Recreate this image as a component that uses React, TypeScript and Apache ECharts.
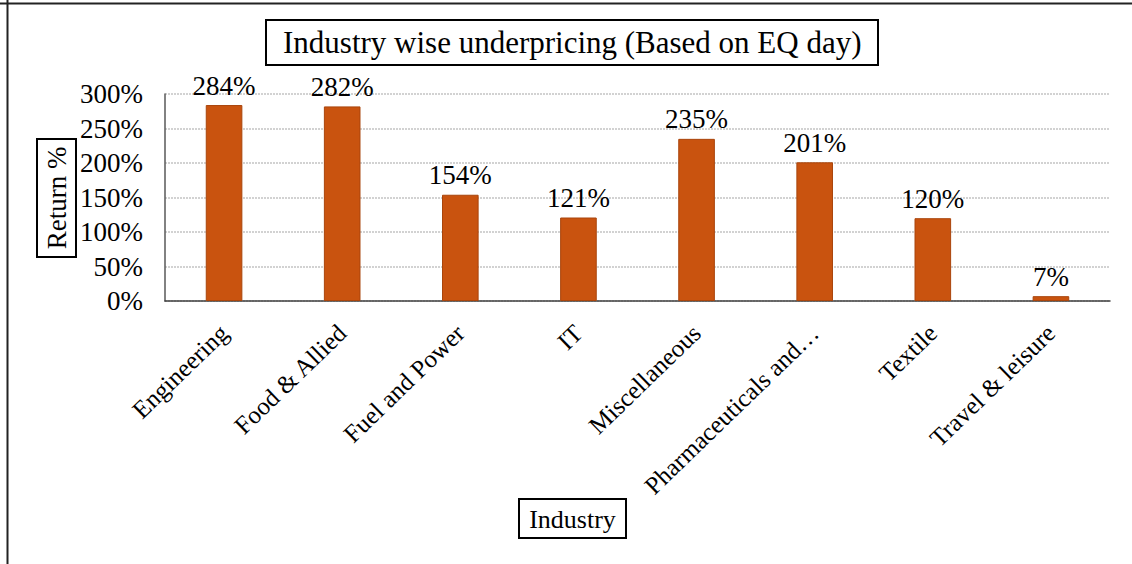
import React, { useEffect, useRef } from "react";
import * as echarts from "echarts";

const categories = [
  "Engineering",
  "Food & Allied",
  "Fuel and Power",
  "IT",
  "Miscellaneous",
  "Pharmaceuticals and…",
  "Textile",
  "Travel & leisure",
];
const returns = [284, 282, 154, 121, 235, 201, 120, 7];
const titleText = "Industry wise underpricing (Based on EQ day)";
const xName = "Industry";
const yName = "Return %";

const FONT = '"Liberation Serif", "Times New Roman", serif';

export default function App() {
  const ref = useRef<HTMLDivElement>(null);
  useEffect(() => {
    if (!ref.current) return;
    const chart = echarts.init(ref.current, undefined, { renderer: "svg" });
    chart.setOption({
      animation: false,
      backgroundColor: "#fff",
      title: {
        text: titleText,
        left: 266,
        top: 20,
        padding: [7, 17],
        borderColor: "#000",
        borderWidth: 2,
        textStyle: { fontFamily: FONT, fontSize: 31, fontWeight: "normal", color: "#000" },
      },
      grid: { left: 165, right: 22, top: 94, bottom: 263 },
      xAxis: {
        type: "category",
        data: categories,
        axisLine: { lineStyle: { color: "#404040", width: 1.5 } },
        axisTick: { show: false },
        axisLabel: {
          interval: 0,
          rotate: 44,
          margin: 28,
          fontFamily: FONT,
          fontSize: 25,
          color: "#000",
        },
      },
      yAxis: {
        type: "value",
        min: 0,
        max: 300,
        interval: 50,
        axisLine: { show: true, lineStyle: { color: "#595959", width: 1.5 } },
        axisTick: { show: false },
        axisLabel: {
          formatter: "{value}%",
          margin: 22,
          fontFamily: FONT,
          fontSize: 27,
          color: "#000",
        },
        splitLine: { lineStyle: { color: "#c4c4c4", width: 1.5, type: [2, 1] } },
      },
      series: [
        {
          type: "bar",
          data: returns,
          barWidth: "31%",
          itemStyle: { color: "#C9530F", borderColor: "#A9450C", borderWidth: 1 },
          label: {
            show: true,
            position: "top",
            distance: 6,
            formatter: "{c}%",
            fontFamily: FONT,
            fontSize: 27,
            color: "#000",
          },
        },
      ],
      graphic: [
        { type: "line", shape: { x1: 0, y1: 3.5, x2: 1132, y2: 3.5 }, style: { stroke: "#222", lineWidth: 2 } },
        { type: "line", shape: { x1: 7.5, y1: 0, x2: 7.5, y2: 564 }, style: { stroke: "#222", lineWidth: 2 } },
        {
          type: "rect",
          shape: { x: 37, y: 139, width: 39, height: 118 },
          style: { fill: "#fff", stroke: "#000", lineWidth: 2 },
        },
        {
          type: "text",
          x: 57,
          y: 198,
          rotation: Math.PI / 2,
          style: {
            text: yName,
            font: `27px ${FONT}`,
            fill: "#000",
            align: "center",
            verticalAlign: "middle",
          },
        },
        {
          type: "rect",
          shape: { x: 519, y: 499, width: 107, height: 39 },
          style: { fill: "#fff", stroke: "#000", lineWidth: 2 },
        },
        {
          type: "text",
          x: 572.5,
          y: 519,
          style: {
            text: xName,
            font: `26px ${FONT}`,
            fill: "#000",
            align: "center",
            verticalAlign: "middle",
          },
        },
      ],
    });
    return () => chart.dispose();
  }, []);
  return (
    <div
      ref={ref}
      style={{ position: "fixed", left: 0, top: 0, width: 1132, height: 564 }}
    />
  );
}
